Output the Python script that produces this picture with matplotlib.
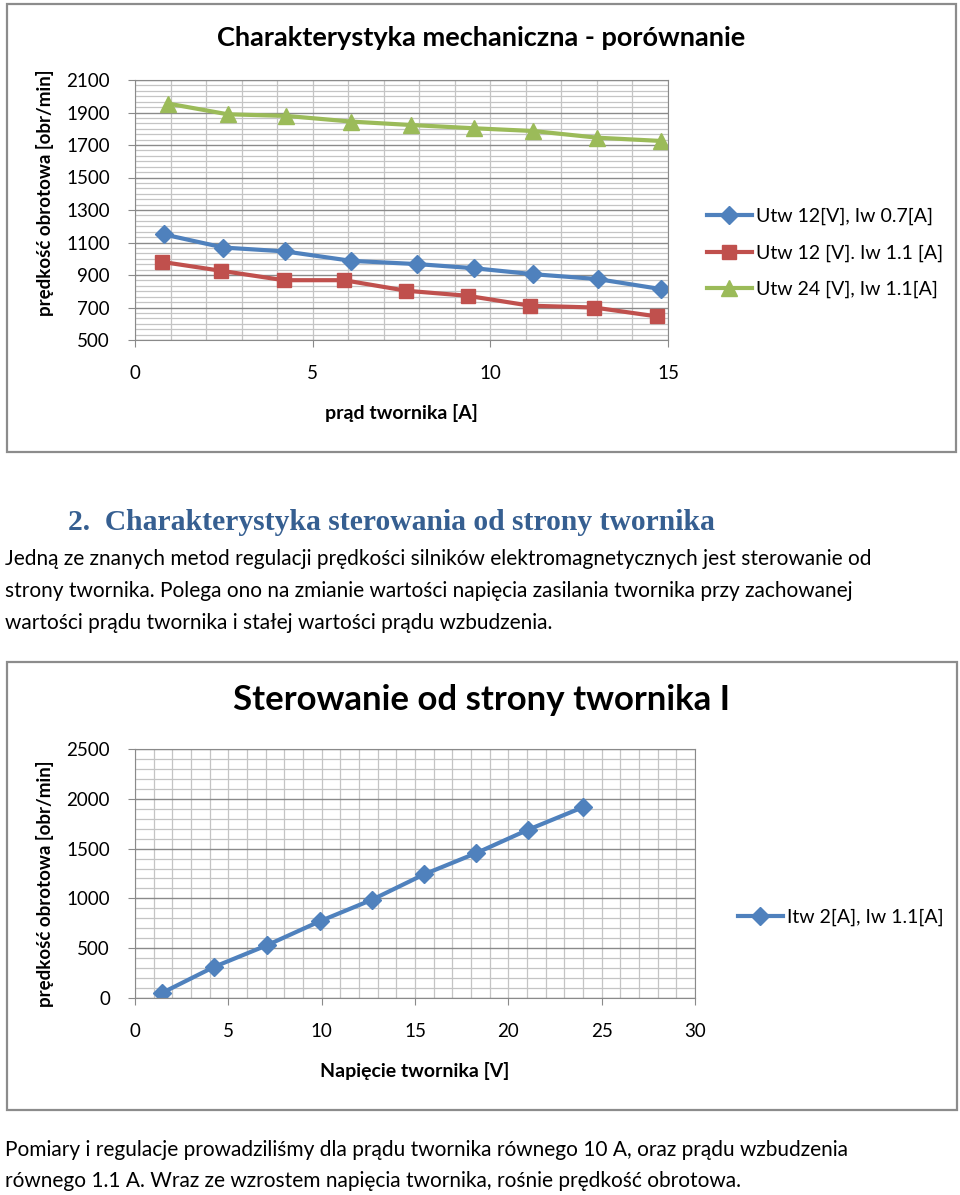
import matplotlib
matplotlib.use("Agg")
import matplotlib.pyplot as plt
from matplotlib.patches import Rectangle
from matplotlib.ticker import MultipleLocator, FixedLocator
import numpy as np

plt.rcParams['font.family'] = ['Lato', 'DejaVu Sans']

# chart 1 - mechanical characteristic
blue_x = [0.81, 2.49, 4.23, 6.09, 7.95, 9.53, 11.2, 13.02, 14.81]
blue_y = [1150, 1069, 1045, 987, 967, 942, 905, 875, 813]
red_x = [0.75, 2.42, 4.19, 5.88, 7.64, 9.36, 11.12, 12.92, 14.69]
red_y = [981, 926, 868, 868, 803, 772, 711, 700, 645]
green_x = [0.93, 2.61, 4.26, 6.09, 7.77, 9.54, 11.21, 13.01, 14.79]
green_y = [1955, 1889, 1879, 1844, 1823, 1803, 1786, 1745, 1725]
labels1 = ["Utw 12[V], Iw 0.7[A]", "Utw 12 [V]. Iw 1.1 [A]", "Utw 24 [V], Iw 1.1[A]"]
yticks1 = [500, 700, 900, 1100, 1300, 1500, 1700, 1900, 2100]

# chart 2 - armature control
volt = [1.47, 4.22, 7.05, 9.92, 12.69, 15.47, 18.27, 21.04, 23.99]
speed = [53, 311, 528, 772, 986, 1240, 1454, 1688, 1915]
label2 = "Itw 2[A], Iw 1.1[A]"

BLUE = '#4F81BD'
RED = '#C0504D'
GREEN = '#9BBB59'
W, H = 960, 1195


def fx(px):
    return px / W


def fy(py):
    return 1 - py / H


def style_axes(ax):
    ax.grid(which='minor', color='#c4c4c4', lw=0.9)
    ax.grid(which='major', axis='y', color='#8a8a8a', lw=1.0)
    ax.grid(which='major', axis='x', color='#c4c4c4', lw=0.9)
    ax.set_axisbelow(True)
    for s in ax.spines.values():
        s.set_color('#8a8a8a')
    ax.tick_params(which='major', direction='out', length=5, color='#8a8a8a',
                   labelsize=13.5, pad=13)
    ax.tick_params(which='minor', length=0)


fig = plt.figure(figsize=(9.6, 11.95), dpi=100)

# frames around charts
fig.patches.append(Rectangle((fx(7), fy(452)), fx(949), 448 / H, transform=fig.transFigure,
                             fill=False, edgecolor='#8c8c8c', lw=1.6))
fig.patches.append(Rectangle((fx(7), fy(1110)), fx(950), 448 / H, transform=fig.transFigure,
                             fill=False, edgecolor='#8c8c8c', lw=1.6))

# ---- chart 1
ax1 = fig.add_axes([fx(135), fy(340), fx(668 - 135), (340 - 80) / H])
ax1.plot(blue_x, blue_y, color=BLUE, lw=3, marker='D', ms=9, label=labels1[0])
ax1.plot(red_x, red_y, color=RED, lw=3, marker='s', ms=10, label=labels1[1])
ax1.plot(green_x, green_y, color=GREEN, lw=3, marker='^', ms=11, label=labels1[2])
ax1.set_xlim(0, 15)
ax1.set_ylim(500, 2100)
ax1.xaxis.set_major_locator(MultipleLocator(5))
ax1.xaxis.set_minor_locator(MultipleLocator(1))
ax1.yaxis.set_major_locator(FixedLocator(yticks1))
ax1.yaxis.set_minor_locator(FixedLocator(np.linspace(500, 2100, 49)))
style_axes(ax1)
ax1.legend(loc='center left', bbox_to_anchor=(fx(707), fy(253)), bbox_transform=fig.transFigure,
           frameon=False, fontsize=14, handlelength=2.3, handletextpad=0.2, labelspacing=1.0,
           borderpad=0, borderaxespad=0)

fig.text(fx(481), fy(38), "Charakterystyka mechaniczna - porównanie", ha='center', va='center',
         fontsize=19.5, fontweight='bold')
fig.text(fx(45), fy(193), "prędkość obrotowa [obr/min]", ha='center', va='center',
         rotation=90, fontsize=13.5, fontweight='bold')
fig.text(fx(401), fy(413), "prąd twornika [A]", ha='center', va='center',
         fontsize=14, fontweight='bold')

# ---- text between charts
fig.text(fx(68), fy(522), "2.  Charakterystyka sterowania od strony twornika", ha='left', va='center',
         fontsize=21.3, fontweight='bold', color='#365F91', family='Liberation Serif')
body = ["Jedną ze znanych metod regulacji prędkości silników elektromagnetycznych jest sterowanie od",
        "strony twornika. Polega ono na zmianie wartości napięcia zasilania twornika przy zachowanej",
        "wartości prądu twornika i stałej wartości prądu wzbudzenia."]
for i, line in enumerate(body):
    fig.text(fx(5), fy(559 + 32 * i), line, ha='left', va='center', fontsize=15)

# ---- chart 2
ax2 = fig.add_axes([fx(135), fy(998), fx(695 - 135), (998 - 749) / H])
ax2.plot(volt, speed, color=BLUE, lw=3, marker='D', ms=9, label=label2)
ax2.set_xlim(0, 30)
ax2.set_ylim(0, 2500)
ax2.xaxis.set_major_locator(MultipleLocator(5))
ax2.xaxis.set_minor_locator(MultipleLocator(1))
ax2.yaxis.set_major_locator(MultipleLocator(500))
ax2.yaxis.set_minor_locator(MultipleLocator(100))
style_axes(ax2)
ax2.legend(loc='center left', bbox_to_anchor=(fx(738), fy(917)), bbox_transform=fig.transFigure,
           frameon=False, fontsize=14, handlelength=2.3, handletextpad=0.2,
           borderpad=0, borderaxespad=0)

fig.text(fx(482), fy(700), "Sterowanie od strony twornika I", ha='center', va='center',
         fontsize=25, fontweight='bold')
fig.text(fx(45), fy(884), "prędkość obrotowa [obr/min]", ha='center', va='center',
         rotation=90, fontsize=13.5, fontweight='bold')
fig.text(fx(415), fy(1071), "Napięcie twornika [V]", ha='center', va='center',
         fontsize=14, fontweight='bold')

bottom = ["Pomiary i regulacje prowadziliśmy dla prądu twornika równego 10 A, oraz prądu wzbudzenia",
          "równego 1.1 A. Wraz ze wzrostem napięcia twornika, rośnie prędkość obrotowa."]
for i, line in enumerate(bottom):
    fig.text(fx(5), fy(1150 + 31 * i), line, ha='left', va='center', fontsize=15)

fig.savefig("out.png", dpi=100)
